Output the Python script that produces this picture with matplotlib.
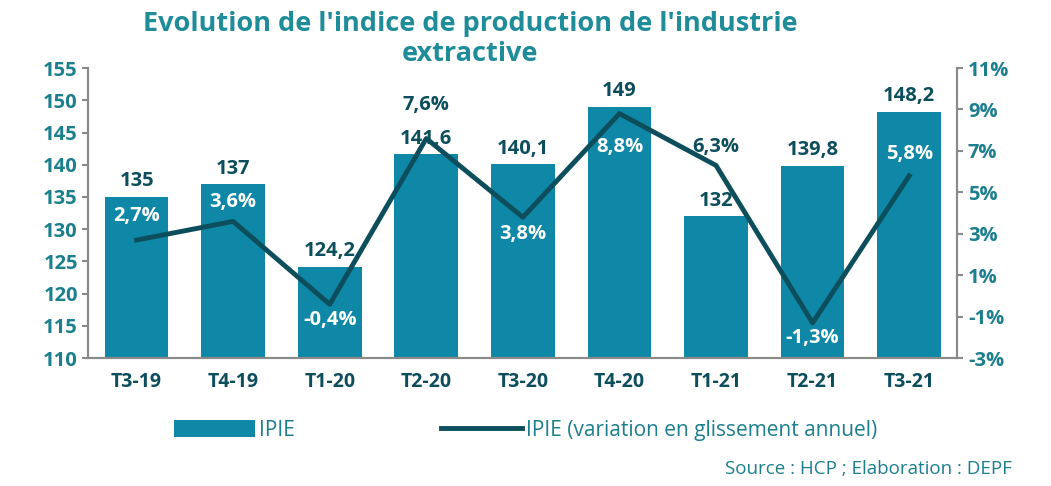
import numpy as np
import matplotlib.pyplot as plt

plt.rcParams['font.family'] = ['Open Sans', 'DejaVu Sans']

quarters = ['T3-19', 'T4-19', 'T1-20', 'T2-20', 'T3-20', 'T4-20', 'T1-21', 'T2-21', 'T3-21']
ipie = [135, 137, 124.2, 141.6, 140.1, 149, 132, 139.8, 148.2]
variation = [2.7, 3.6, -0.4, 7.6, 3.8, 8.8, 6.3, -1.3, 5.8]
# vertical offset of each % label (points), + above the line, - below
var_offsets = [17, 14, -11, 24, -12, -24, 13, -11, 16]

bar_col = '#0E88A6'
line_col = '#0D4E5C'
txt_col = '#1C7F8E'

def fr(v):
    s = ('%.1f' % v).replace('.', ',')
    return s[:-2] if s.endswith(',0') else s

fig = plt.figure(figsize=(10.51, 4.86), dpi=100)
ax = fig.add_axes([0.084, 0.263, 0.827, 0.597])
ax2 = ax.twinx()

x = np.arange(len(quarters))
ax.bar(x, ipie, width=0.66, color=bar_col, label='IPIE', zorder=2)
ax.set_ylim(110, 155)
ax.set_yticks(np.arange(110, 156, 5))
ax.set_xlim(-0.5, len(quarters) - 0.5)
ax.set_xticks(x)
ax.set_xticklabels(quarters)

for xi, v in zip(x, ipie):
    ax.annotate(fr(v), (xi, v), xytext=(0, 4), textcoords='offset points',
                ha='center', va='bottom', fontsize=14.5, fontweight='bold', color=line_col)

ax2.plot(x, variation, color=line_col, lw=3.5, label='IPIE (variation en glissement annuel)', zorder=3)
ax2.set_ylim(-3, 11)
ax2.set_yticks(np.arange(-3, 12, 2))
ax2.set_yticklabels(['%d%%' % t for t in np.arange(-3, 12, 2)])

# percent labels: white inside bars, dark outside
r_lo, r_hi = ax2.get_ylim()
l_lo, l_hi = ax.get_ylim()
for xi, v, off, b in zip(x, variation, var_offsets, ipie):
    frac = (v - r_lo) / (r_hi - r_lo) + off / (0.597 * 4.86 * 72)
    bar_frac = (b - l_lo) / (l_hi - l_lo)
    c = 'white' if frac < bar_frac else line_col
    ax2.annotate(fr(v) + '%', (xi, v), xytext=(0, off), textcoords='offset points',
                 ha='center', va='center', fontsize=14.5, fontweight='bold', color=c, zorder=4)

for a in (ax, ax2):
    a.spines['top'].set_visible(False)
    for s in ('left', 'right', 'bottom'):
        a.spines[s].set_color('#8a8a8a')
        a.spines[s].set_linewidth(1.5)
    a.tick_params(axis='y', colors='#8a8a8a', labelcolor=txt_col, labelsize=14.5, length=4, width=1.5)
    for lab in a.get_yticklabels():
        lab.set_fontweight('bold')
ax.tick_params(axis='x', length=0, labelsize=14, labelcolor=line_col, pad=10)
for lab in ax.get_xticklabels():
    lab.set_fontweight('bold')

fig.text(0.447, 0.978, "Evolution de l'indice de production de l'industrie\nextractive",
         ha='center', va='top', fontsize=19.5, fontweight='bold', color='#1F8C9A', linespacing=1.2)

h1, l1 = ax.get_legend_handles_labels()
h2, l2 = ax2.get_legend_handles_labels()
leg = fig.legend(h1 + h2, l1 + l2, loc='center', bbox_to_anchor=(0.5, 0.115), ncol=2,
                 frameon=False, fontsize=15, handlelength=3.9, handleheight=0.9, columnspacing=7,
                 handletextpad=0.2)
for t in leg.get_texts():
    t.set_color(txt_col)

fig.text(0.963, 0.035, 'Source : HCP ; Elaboration : DEPF', ha='right', va='center',
         fontsize=13.5, color=txt_col)

fig.savefig('out.png', dpi=100)
